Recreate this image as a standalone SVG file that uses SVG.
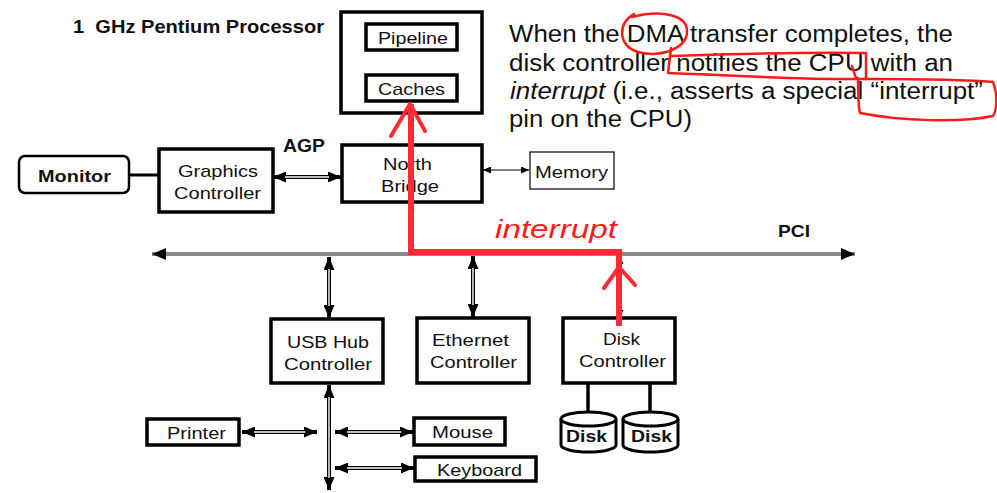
<svg xmlns="http://www.w3.org/2000/svg" width="997" height="493" viewBox="0 0 997 493">
<defs>
<style>
text{font-family:"Liberation Sans",Arial,sans-serif;fill:#111;}
.lbl{font-size:17px;}
.b{font-weight:bold;}
.box{fill:#fff;stroke:#000;stroke-width:3.5;}
.thin{fill:#fff;stroke:#000;stroke-width:1.2;}
.dblo{stroke:#000;stroke-width:4;fill:none;}
.dbli{stroke:#fff;stroke-width:1.4;fill:none;}
.sl{stroke:#000;stroke-width:1.2;fill:none;}
.red{stroke:#ff2a36;stroke-width:6;fill:none;}
.redh{stroke:#ff2a36;stroke-width:4;fill:none;stroke-linecap:round;stroke-linejoin:round;}
.redl{stroke:#ff1a1a;stroke-width:2.5;fill:none;stroke-linecap:round;stroke-linejoin:round;}
.main{font-size:23px;}
</style>
<marker id="ah" markerUnits="userSpaceOnUse" markerWidth="13" markerHeight="11" viewBox="0 0 13 11" refX="13" refY="5.5" orient="auto-start-reverse"><path d="M0,0 L13,5.5 L0,11 z" fill="#000"/></marker>
<marker id="as" markerUnits="userSpaceOnUse" markerWidth="8" markerHeight="7" viewBox="0 0 8 7" refX="8" refY="3.5" orient="auto-start-reverse"><path d="M0,0 L8,3.5 L0,7 z" fill="#000"/></marker>
<marker id="ab" markerUnits="userSpaceOnUse" markerWidth="14" markerHeight="12" viewBox="0 0 14 12" refX="14" refY="6" orient="auto-start-reverse"><path d="M0,0 L14,6 L0,12 z" fill="#000"/></marker>
</defs>
<rect width="997" height="493" fill="#fff"/>

<text class="b" x="73" y="33" font-size="18" textLength="251" lengthAdjust="spacingAndGlyphs">1&#160; GHz Pentium Processor</text>
<text class="b" x="283" y="152" font-size="18" textLength="42" lengthAdjust="spacingAndGlyphs">AGP</text>
<text class="b" x="778" y="237" font-size="17" textLength="32" lengthAdjust="spacingAndGlyphs">PCI</text>

<g id="connectors">
<line x1="129" y1="175" x2="159" y2="175" stroke="#000" stroke-width="3"/>
<line class="dblo" x1="273" y1="177" x2="341" y2="177" marker-start="url(#ah)" marker-end="url(#ah)"/>
<line class="dbli" x1="285" y1="177" x2="329" y2="177"/>
<line class="sl" x1="483" y1="170" x2="529" y2="170" marker-start="url(#as)" marker-end="url(#as)"/>
<line class="sl" x1="411" y1="50" x2="411" y2="75" marker-start="url(#as)" marker-end="url(#as)"/>
<line class="sl" x1="411" y1="113" x2="411" y2="145" marker-start="url(#as)" marker-end="url(#as)"/>
<line class="sl" x1="411" y1="202" x2="411" y2="253" marker-start="url(#as)" marker-end="url(#as)"/>
<line class="sl" x1="620" y1="256" x2="620" y2="318" marker-start="url(#as)" marker-end="url(#as)"/>
<line x1="152" y1="254" x2="855" y2="254" stroke="#8a8a8a" stroke-width="4" marker-start="url(#ab)" marker-end="url(#ab)"/>
<line class="dblo" x1="329" y1="257" x2="329" y2="318" marker-start="url(#ah)" marker-end="url(#ah)"/>
<line class="dbli" x1="329" y1="269" x2="329" y2="306"/>
<line class="dblo" x1="473" y1="256" x2="473" y2="317" marker-start="url(#ah)" marker-end="url(#ah)"/>
<line class="dbli" x1="473" y1="268" x2="473" y2="305"/>
<line class="dblo" x1="329" y1="385" x2="329" y2="490" marker-start="url(#ah)" marker-end="url(#ah)"/>
<line class="dbli" x1="329" y1="397" x2="329" y2="478"/>
<line class="dblo" x1="242" y1="432" x2="317" y2="432" marker-start="url(#ah)" marker-end="url(#ah)"/>
<line class="dbli" x1="254" y1="432" x2="305" y2="432"/>
<line class="dblo" x1="335" y1="432" x2="413" y2="432" marker-start="url(#ah)" marker-end="url(#ah)"/>
<line class="dbli" x1="347" y1="432" x2="401" y2="432"/>
<line class="dblo" x1="335" y1="468" x2="414" y2="468" marker-start="url(#ah)" marker-end="url(#ah)"/>
<line class="dbli" x1="347" y1="468" x2="402" y2="468"/>
<line x1="588" y1="383" x2="588" y2="412" stroke="#000" stroke-width="3.5"/>
<line x1="650" y1="383" x2="650" y2="412" stroke="#000" stroke-width="3.5"/>
</g>

<g id="processor">
<rect class="box" x="341" y="12" width="141" height="101"/>
</g>
<g id="pipeline">
<rect class="box" x="366" y="24" width="91" height="26"/>
<text class="lbl" x="378" y="44" textLength="70" lengthAdjust="spacingAndGlyphs">Pipeline</text>
</g>
<g id="caches">
<rect class="box" x="366" y="75" width="91" height="26"/>
<text class="lbl" x="378" y="95" textLength="67" lengthAdjust="spacingAndGlyphs">Caches</text>
</g>
<g id="monitor">
<rect x="19" y="156" width="110" height="37" rx="6" fill="#fff" stroke="#000" stroke-width="2.5"/>
<text class="lbl b" x="38" y="182" textLength="73" lengthAdjust="spacingAndGlyphs">Monitor</text>
</g>
<g id="graphics">
<rect class="box" x="159" y="149" width="114" height="63"/>
<text class="lbl" x="178" y="177" textLength="80" lengthAdjust="spacingAndGlyphs">Graphics</text>
<text class="lbl" x="174" y="199" textLength="87" lengthAdjust="spacingAndGlyphs">Controller</text>
</g>
<g id="northbridge">
<rect class="box" x="342" y="145" width="140" height="57"/>
<text class="lbl" x="383" y="170" textLength="49" lengthAdjust="spacingAndGlyphs">North</text>
<text class="lbl" x="381" y="192" textLength="58" lengthAdjust="spacingAndGlyphs">Bridge</text>
</g>
<g id="memory">
<rect class="thin" x="530" y="152" width="84" height="37"/>
<text class="lbl" x="535" y="178" textLength="73" lengthAdjust="spacingAndGlyphs">Memory</text>
</g>
<g id="usb">
<rect class="box" x="271" y="319" width="112" height="64"/>
<text class="lbl" x="287" y="348" textLength="82" lengthAdjust="spacingAndGlyphs">USB Hub</text>
<text class="lbl" x="284" y="370" textLength="88" lengthAdjust="spacingAndGlyphs">Controller</text>
</g>
<g id="ethernet">
<rect class="box" x="417" y="318" width="112" height="65"/>
<text class="lbl" x="432" y="346" textLength="77" lengthAdjust="spacingAndGlyphs">Ethernet</text>
<text class="lbl" x="430" y="368" textLength="87" lengthAdjust="spacingAndGlyphs">Controller</text>
</g>
<g id="diskcontroller">
<rect class="box" x="563" y="318" width="112" height="65"/>
<text class="lbl" x="603" y="345" textLength="37" lengthAdjust="spacingAndGlyphs">Disk</text>
<text class="lbl" x="579" y="367" textLength="87" lengthAdjust="spacingAndGlyphs">Controller</text>
</g>
<g id="printer">
<rect class="box" x="147" y="419" width="92" height="26"/>
<text class="lbl" x="167" y="439" textLength="59" lengthAdjust="spacingAndGlyphs">Printer</text>
</g>
<g id="mouse">
<rect class="box" x="414" y="418" width="91" height="27"/>
<text class="lbl" x="432" y="438" textLength="61" lengthAdjust="spacingAndGlyphs">Mouse</text>
</g>
<g id="keyboard">
<rect class="box" x="415" y="457" width="121" height="24"/>
<text class="lbl" x="437" y="476" textLength="85" lengthAdjust="spacingAndGlyphs">Keyboard</text>
</g>
<g id="disk1">
<path d="M561 419 L561 445 A27.5 7 0 0 0 616 445 L616 419" fill="#fff" stroke="#000" stroke-width="3"/>
<ellipse cx="588.5" cy="419" rx="27.5" ry="7" fill="#fff" stroke="#000" stroke-width="3"/>
<text class="lbl b" x="566" y="442" textLength="41" lengthAdjust="spacingAndGlyphs">Disk</text>
</g>
<g id="disk2">
<path d="M623 419 L623 445 A27.5 7 0 0 0 678 445 L678 419" fill="#fff" stroke="#000" stroke-width="3"/>
<ellipse cx="650.5" cy="419" rx="27.5" ry="7" fill="#fff" stroke="#000" stroke-width="3"/>
<text class="lbl b" x="631" y="442" textLength="41" lengthAdjust="spacingAndGlyphs">Disk</text>
</g>

<g id="note">
<text class="main" x="509" y="42" textLength="444" lengthAdjust="spacingAndGlyphs">When the DMA transfer completes, the</text>
<text class="main" x="509" y="71" textLength="444" lengthAdjust="spacingAndGlyphs">disk controller notifies the CPU with an</text>
<text class="main" x="510" y="99" textLength="473" lengthAdjust="spacingAndGlyphs"><tspan font-style="italic">interrupt</tspan> (i.e., asserts a special “interrupt”</text>
<text class="main" x="509" y="127" textLength="183" lengthAdjust="spacingAndGlyphs">pin on the CPU)</text>
</g>

<g id="annotation">
<path class="red" d="M411 104 L411 252 L619 252 L619 326"/>
<path class="redh" d="M391 136 L410 104 L425 131"/>
<path class="redh" d="M604 288 L619 267 L635 285"/>
<text x="495" y="238" font-size="26" font-style="italic" style="fill:#ff1a1a" textLength="122" lengthAdjust="spacingAndGlyphs">interrupt</text>
<path class="redl" d="M634 14 C618 22 617 46 638 52 C662 58 688 48 687 30 C686 16 664 9 632 17"/>
<path class="redl" d="M671 48 L668 73 C730 75 800 80 866 79 L866 53 C800 52 730 54 672 56"/>
<path class="redl" d="M852 66 C855 75 856 80 858 78 M858 78 C858 95 858 105 860 113 C900 121 960 123 993 116 C998 108 997 92 993 82 C960 79 910 79 866 79"/>
</g>
</svg>
